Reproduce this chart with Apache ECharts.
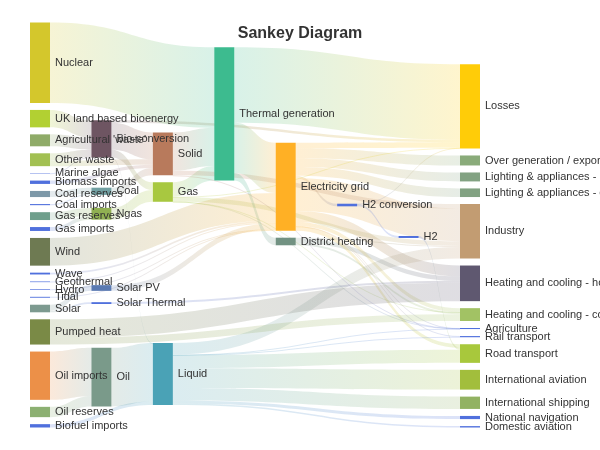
<!DOCTYPE html>
<html>
<head>
<meta charset="utf-8">
<script src="https://cdn.jsdelivr.net/npm/echarts@6/dist/echarts.min.js"></script>
<style>
  html, body { margin: 0; padding: 0; background: #fff; }
  #main { width: 600px; height: 450px; }
</style>
</head>
<body>
<div id="main"></div>
<script>
// node names, same order as the energy dataset
var nodeNames = [
  "Agricultural 'waste'", 'Bio-conversion', 'Liquid', 'Losses', 'Solid', 'Gas',
  'Biofuel imports', 'Biomass imports', 'Coal imports', 'Coal', 'Coal reserves',
  'District heating', 'Industry', 'Heating and cooling - commercial',
  'Heating and cooling - homes', 'Electricity grid', 'Over generation / exports',
  'H2 conversion', 'Road transport', 'Agriculture', 'Rail transport',
  'Lighting & appliances - commercial', 'Lighting & appliances - homes',
  'Gas imports', 'Ngas', 'Gas reserves', 'Thermal generation', 'Geothermal',
  'H2', 'Hydro', 'International shipping', 'Domestic aviation',
  'International aviation', 'National navigation', 'Marine algae', 'Nuclear',
  'Oil imports', 'Oil', 'Oil reserves', 'Other waste', 'Pumped heat',
  'Solar PV', 'Solar Thermal', 'Solar', 'Tidal', 'UK land based bioenergy',
  'Wave', 'Wind'
];

// flows: [source index, target index, value]
var flows = [
  [0, 1, 124.729], [1, 2, 0.597], [1, 3, 26.862], [1, 4, 280.322], [1, 5, 81.144],
  [6, 2, 35], [7, 4, 35], [8, 9, 11.606], [10, 9, 63.965], [9, 4, 75.571],
  [11, 12, 10.639], [11, 13, 22.505], [11, 14, 46.184],
  [15, 16, 104.453], [15, 14, 113.726], [15, 17, 27.14], [15, 12, 342.165],
  [15, 18, 37.797], [15, 19, 4.412], [15, 13, 40.858], [15, 3, 56.691],
  [15, 20, 7.863], [15, 21, 90.008], [15, 22, 93.494],
  [23, 24, 40.719], [25, 24, 82.233],
  [5, 13, 0.129], [5, 3, 1.401], [5, 26, 151.891], [5, 19, 2.096], [5, 12, 48.58],
  [27, 15, 7.013], [17, 28, 20.897], [17, 3, 6.242], [28, 18, 20.897], [29, 15, 6.995],
  [2, 12, 121.066], [2, 30, 128.69], [2, 18, 135.835], [2, 31, 14.458],
  [2, 32, 206.267], [2, 19, 3.64], [2, 33, 33.218], [2, 20, 4.413],
  [34, 1, 4.375], [24, 5, 122.952], [35, 26, 839.978],
  [36, 37, 504.287], [38, 37, 107.703], [37, 2, 611.99],
  [39, 4, 56.587], [39, 1, 77.81], [40, 14, 193.026], [40, 13, 70.672],
  [41, 15, 59.901], [42, 14, 19.263], [43, 42, 19.263], [43, 41, 59.901],
  [4, 19, 0.882], [4, 26, 400.12], [4, 12, 46.477],
  [26, 15, 525.531], [26, 3, 787.129], [26, 11, 79.329],
  [44, 15, 9.452], [45, 1, 182.01], [46, 15, 19.013], [47, 15, 289.366]
];

// node fill colours
var thin = '#5070dd';
var nodeColors = {
  "Agricultural 'waste'": '#8fab68', 'Bio-conversion': '#6e5562', 'Liquid': '#4aa2b6',
  'Losses': '#ffcc08', 'Solid': '#b87a5c', 'Gas': '#a8c840', 'Biofuel imports': thin,
  'Biomass imports': thin, 'Coal imports': thin, 'Coal': '#72a0a2', 'Coal reserves': '#7d98a8',
  'District heating': '#729282', 'Industry': '#c29c72',
  'Heating and cooling - commercial': '#a2c264', 'Heating and cooling - homes': '#5f5870',
  'Electricity grid': '#ffb025', 'Over generation / exports': '#8aab7a',
  'H2 conversion': thin, 'Road transport': '#a8c83c', 'Agriculture': thin,
  'Rail transport': thin, 'Lighting & appliances - commercial': '#82a282',
  'Lighting & appliances - homes': '#82a282', 'Gas imports': thin, 'Ngas': '#90b052',
  'Gas reserves': '#6f9f8c', 'Thermal generation': '#3dbb8f', 'Geothermal': thin,
  'H2': thin, 'Hydro': thin, 'International shipping': '#92b262',
  'Domestic aviation': thin, 'International aviation': '#a2be3c',
  'National navigation': thin, 'Marine algae': thin, 'Nuclear': '#d4c72c',
  'Oil imports': '#ec9048', 'Oil': '#7a9a8a', 'Oil reserves': '#8cb072',
  'Other waste': '#a2c052', 'Pumped heat': '#7a8a46', 'Solar PV': '#5a7ab2',
  'Solar Thermal': thin, 'Solar': '#7d9a90', 'Tidal': thin,
  'UK land based bioenergy': '#b2d032', 'Wave': thin, 'Wind': '#6e7a52'
};

var myChart = echarts.init(document.getElementById('main'))
myChart.setOption({
  title: {
    text: 'Sankey Diagram',
    left: 'center',
    top: 21,
    textStyle: {
      fontFamily: 'Liberation Sans',
      fontSize: 16,
      fontWeight: 'bold',
      color: '#333'
    }
  },
  tooltip: {
    trigger: 'item',
    triggerOn: 'mousemove'
  },
  series: [
    {
      type: 'sankey',
      left: '5%',
      right: '20%',
      top: '5%',
      bottom: '5%',
      nodeGap: 7,
      data: nodeNames.map(function (n) {
        return { name: n, itemStyle: { color: nodeColors[n] } }
      }),
      links: flows.map(function (f) {
        return { source: nodeNames[f[0]], target: nodeNames[f[1]], value: f[2] }
      }),
      emphasis: {
        focus: 'adjacency'
      },
      itemStyle: {
        borderWidth: 0
      },
      label: {
        fontFamily: 'Liberation Sans',
        fontSize: 11,
        color: '#333'
      },
      lineStyle: {
        color: 'gradient',
        curveness: 0.5,
        opacity: 0.2
      }
    }
  ]
})
</script>
</body>
</html>
